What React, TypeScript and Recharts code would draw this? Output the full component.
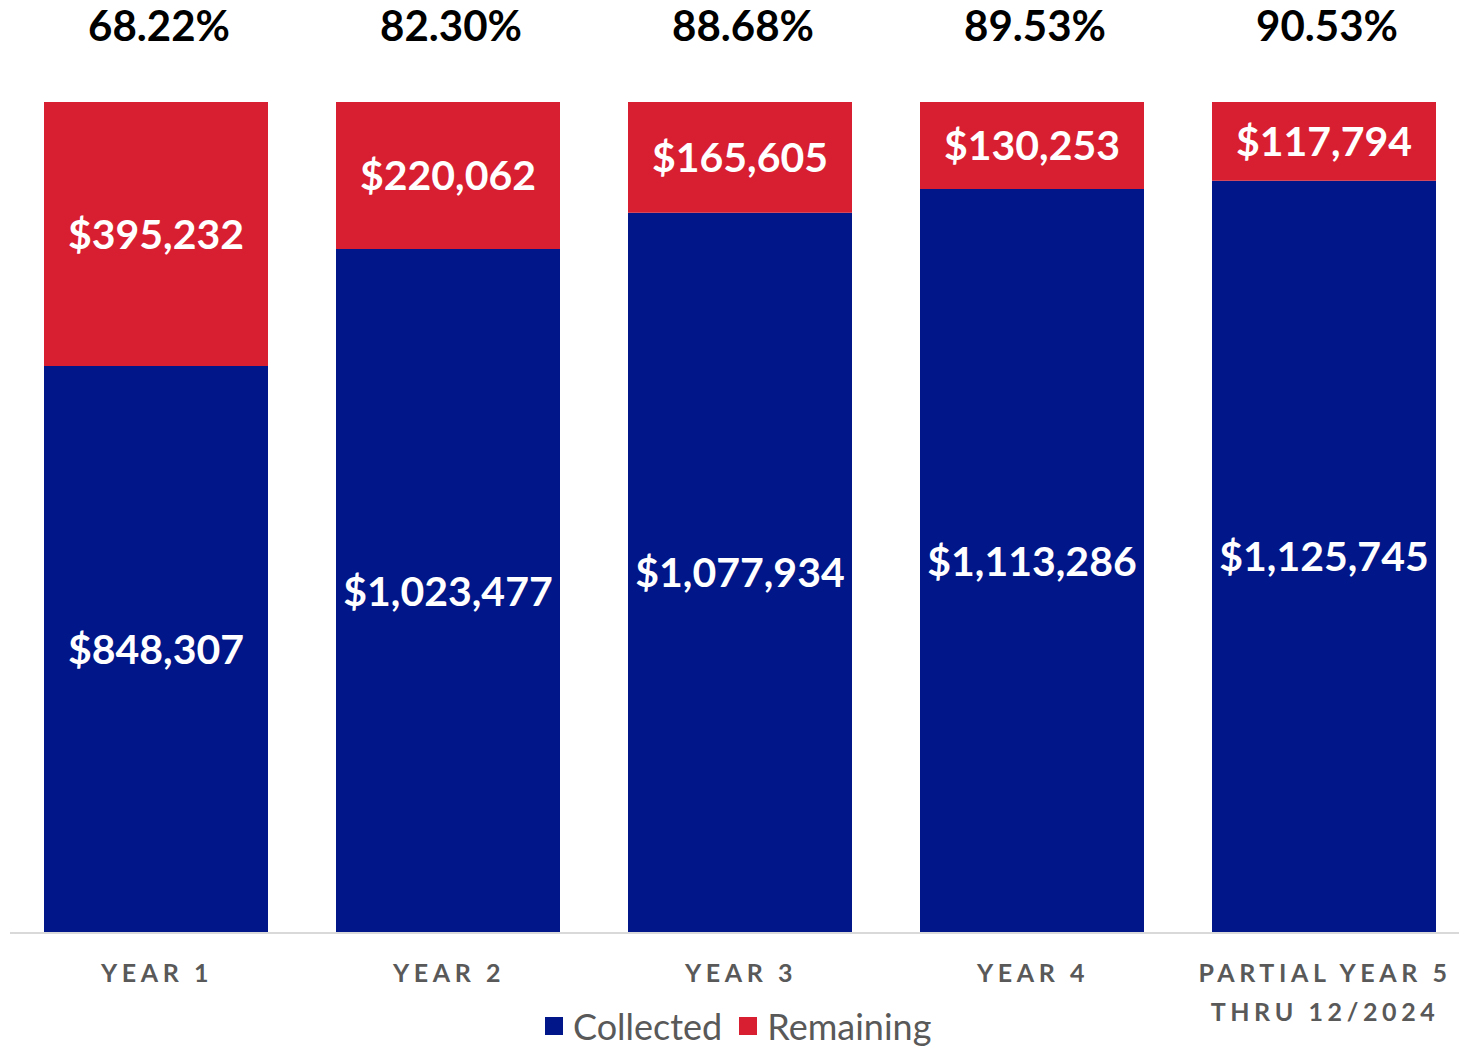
import { BarChart, Bar, XAxis, YAxis, LabelList } from 'recharts';

const categories = ['YEAR 1', 'YEAR 2', 'YEAR 3', 'YEAR 4', 'PARTIAL YEAR 5|THRU 12/2024'];
const collected = [848307, 1023477, 1077934, 1113286, 1125745];
const remaining = [395232, 220062, 165605, 130253, 117794];
const percentLabels = ['68.22%', '82.30%', '88.68%', '89.53%', '90.53%'];

const seriesNames = ['Collected', 'Remaining'];
const seriesColors = ['#001689', '#d81f32'];

const FONT = 'Lato, "Open Sans", sans-serif';

const data = categories.map((category, i) => ({
    category,
    collected: collected[i],
    remaining: remaining[i],
    pct: percentLabels[i]
}));

const maxTotal = Math.max(...collected.map((c, i) => c + remaining[i]));

const money = (v: number) => '$' + v.toLocaleString('en-US');

function CategoryTick(props: any) {
    const { x, y, payload } = props;
    const lines = String(payload.value).split('|');
    return (
        <g transform={`translate(${x + 1},${y})`}>
            {lines.map((line, i) => (
                <text
                    key={i}
                    x={0}
                    y={31 + i * 39}
                    textAnchor="middle"
                    dominantBaseline="central"
                    fill="#595959"
                    fontFamily={FONT}
                    fontWeight={700}
                    fontSize={25}
                    letterSpacing={4.6}
                >
                    {line}
                </text>
            ))}
        </g>
    );
}

function PercentLabel(props: any) {
    const { x, y, width, index } = props;
    return (
        <text
            x={x + width / 2 + 3}
            y={y - 77}
            textAnchor="middle"
            dominantBaseline="central"
            fill="#000"
            fontFamily={FONT}
            fontWeight={700}
            fontSize={42}
        >
            {percentLabels[index]}
        </text>
    );
}

export default function App() {
    return (
        <div style={{ position: 'absolute', left: 0, top: 0, width: 1459, height: 1050, overflow: 'hidden', background: '#fff' }}>
            <BarChart
                width={1470}
                height={1050}
                data={data}
                margin={{ top: 102, right: 0, left: 10, bottom: 0 }}
            >
                <XAxis
                    dataKey="category"
                    height={117}
                    axisLine={{ stroke: '#d9d9d9', strokeWidth: 2 }}
                    tickLine={false}
                    interval={0}
                    tick={<CategoryTick />}
                />
                <YAxis hide domain={[0, maxTotal]} />
                <Bar dataKey="collected" stackId="a" fill={seriesColors[0]} barSize={224} isAnimationActive={false}>
                    <LabelList
                        dataKey="collected"
                        position="center"
                        formatter={(v: any) => money(Number(v))}
                        fill="#fff"
                        fontFamily={FONT}
                        fontWeight={700}
                        fontSize={41}
                    />
                </Bar>
                <Bar dataKey="remaining" stackId="a" fill={seriesColors[1]} barSize={224} isAnimationActive={false}>
                    <LabelList
                        dataKey="remaining"
                        position="center"
                        formatter={(v: any) => money(Number(v))}
                        fill="#fff"
                        fontFamily={FONT}
                        fontWeight={700}
                        fontSize={41}
                    />
                    <LabelList dataKey="pct" content={<PercentLabel />} />
                </Bar>
            </BarChart>
            <div
                style={{
                    position: 'absolute',
                    left: 545,
                    top: 1008,
                    display: 'flex',
                    alignItems: 'center',
                    fontFamily: FONT,
                    fontSize: 36,
                    color: '#595959',
                    lineHeight: '36px'
                }}
            >
                {seriesNames.map((name, i) => (
                    <span key={name} style={{ display: 'flex', alignItems: 'center', marginRight: 17 }}>
                        <span style={{ display: 'inline-block', width: 18, height: 18, background: seriesColors[i], marginRight: 10 }} />
                        {name}
                    </span>
                ))}
            </div>
        </div>
    );
}
